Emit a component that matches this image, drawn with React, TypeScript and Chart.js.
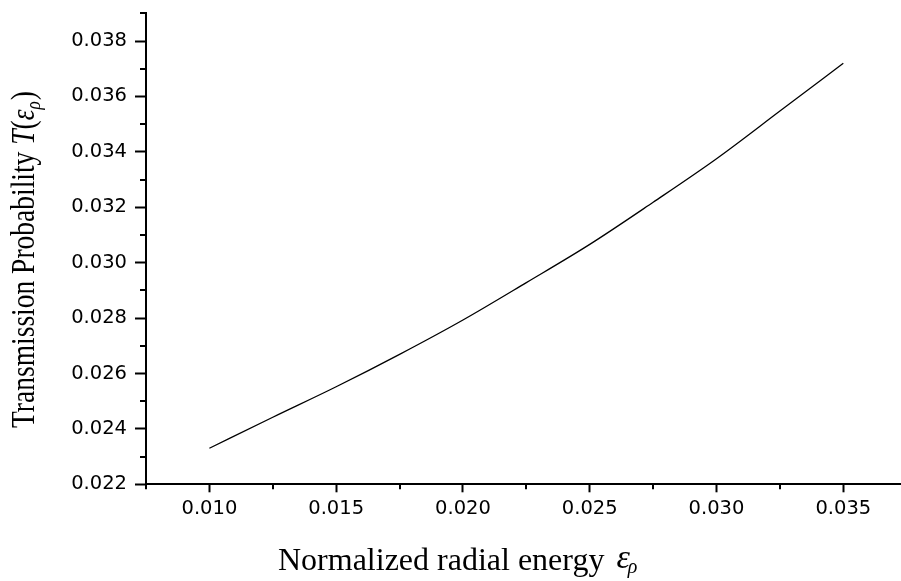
import { useEffect, useRef } from "react";
import { Chart, registerables } from "chart.js";

Chart.register(...registerables);

// ---- data ----
const ENERGY = [0.010, 0.0125, 0.015, 0.0175, 0.020, 0.0225, 0.025, 0.0275, 0.030, 0.0325, 0.035];
const TRANSMISSION = [0.0233, 0.02442, 0.02552, 0.02669, 0.02793, 0.02928, 0.03066, 0.03218, 0.03375, 0.03547, 0.0372];

const X_MIN = 0.0075;
const X_MAX = 0.0375;
const Y_MIN = 0.022;
const Y_MAX = 0.039;

const X_MAJOR_TICKS = [0.010, 0.015, 0.020, 0.025, 0.030, 0.035];
const X_MINOR_TICKS = [0.0075, 0.0125, 0.0175, 0.0225, 0.0275, 0.0325, 0.0375];
const Y_MAJOR_TICKS = [0.022, 0.024, 0.026, 0.028, 0.030, 0.032, 0.034, 0.036, 0.038];
const Y_MINOR_TICKS = [0.023, 0.025, 0.027, 0.029, 0.031, 0.033, 0.035, 0.037, 0.039];

const X_TITLE = "Normalized radial energy";
const Y_TITLE = "Transmission Probability ";
const SYM_T = "T";
const SYM_EPS = "ε";
const SYM_RHO = "ρ";

const W = 910;
const H = 581;

const TICK_FONT = { family: '"DejaVu Sans"', size: 19.5 };

const minorTicksPlugin = {
  id: "minorTicks",
  afterDraw(chart: any) {
    const { ctx, chartArea } = chart;
    const xs = chart.scales.x;
    const ys = chart.scales.y;
    ctx.save();
    ctx.strokeStyle = "#000";
    ctx.lineWidth = 2;
    ctx.beginPath();
    for (const v of X_MINOR_TICKS) {
      const px = Math.round(xs.getPixelForValue(v));
      ctx.moveTo(px, chartArea.bottom);
      ctx.lineTo(px, chartArea.bottom + 5);
    }
    for (const v of Y_MINOR_TICKS) {
      const py = Math.round(ys.getPixelForValue(v));
      ctx.moveTo(chartArea.left - 6, py);
      ctx.lineTo(chartArea.left, py);
    }
    ctx.stroke();
    ctx.restore();
  },
};

const titlesPlugin = {
  id: "axisTitles",
  afterDraw(chart: any) {
    const { ctx } = chart;
    ctx.save();
    ctx.fillStyle = "#000";
    ctx.textAlign = "left";
    ctx.textBaseline = "alphabetic";

    // x-axis title
    const xt = 278;
    const xb = 570;
    ctx.font = '32px "Liberation Serif"';
    ctx.fillText(X_TITLE, xt, xb);
    const tw = ctx.measureText(X_TITLE).width;
    const ex = xt + tw + 12;
    ctx.font = 'italic 34px "Liberation Serif"';
    ctx.fillText(SYM_EPS, ex, 568);
    const ew = ctx.measureText(SYM_EPS).width;
    ctx.font = 'italic 20px "Liberation Serif"';
    ctx.fillText(SYM_RHO, ex + ew - 2, 573);
    ctx.restore();

    // y-axis title (rotated)
    ctx.save();
    ctx.fillStyle = "#000";
    ctx.textAlign = "left";
    ctx.textBaseline = "alphabetic";
    ctx.translate(33.5, 428);
    ctx.rotate(-Math.PI / 2);
    ctx.scale(1, 1.2);
    let p = 0;
    ctx.font = '27.5px "Liberation Serif"';
    ctx.fillText(Y_TITLE, p, 0);
    p += ctx.measureText(Y_TITLE).width;
    ctx.font = 'italic 27.5px "Liberation Serif"';
    ctx.fillText(SYM_T, p, 0);
    p += ctx.measureText(SYM_T).width;
    ctx.font = '27.5px "Liberation Serif"';
    ctx.fillText("(", p, 0);
    p += ctx.measureText("(").width;
    ctx.font = 'italic 27.5px "Liberation Serif"';
    ctx.fillText(SYM_EPS, p, 0);
    p += ctx.measureText(SYM_EPS).width;
    ctx.font = 'italic 17px "Liberation Serif"';
    ctx.fillText(SYM_RHO, p, 5);
    p += ctx.measureText(SYM_RHO).width + 1;
    ctx.font = '27.5px "Liberation Serif"';
    ctx.fillText(")", p, 0);
    ctx.restore();
  },
};

export default function App() {
  const canvasRef = useRef<HTMLCanvasElement | null>(null);

  useEffect(() => {
    const canvas = canvasRef.current;
    if (!canvas) return;
    const chart = new Chart(canvas, {
      type: "line",
      data: {
        datasets: [
          {
            label: "T",
            data: ENERGY.map((x, i) => ({ x, y: TRANSMISSION[i] })),
            borderColor: "#000",
            borderWidth: 1.3,
            pointRadius: 0,
            fill: false,
            cubicInterpolationMode: "monotone",
          },
        ],
      },
      options: {
        animation: false,
        responsive: false,
        devicePixelRatio: 1,
        layout: { padding: { top: 13.3, right: W - 906.7, left: 0, bottom: 0 } },
        plugins: {
          legend: { display: false },
          tooltip: { enabled: false },
          title: { display: false },
        },
        scales: {
          x: {
            type: "linear",
            position: "bottom",
            min: X_MIN,
            max: X_MAX,
            afterBuildTicks: (s: any) => {
              s.ticks = X_MAJOR_TICKS.map((value) => ({ value }));
            },
            afterFit: (s: any) => {
              s.height = H - 484.3;
              s.paddingLeft = 0;
              s.paddingRight = 0;
            },
            ticks: {
              autoSkip: false,
              maxRotation: 0,
              padding: 5,
              color: "#000",
              font: TICK_FONT,
              callback: (v: any) => Number(v).toFixed(3),
            },
            grid: {
              drawOnChartArea: false,
              drawTicks: true,
              tickLength: 8,
              tickWidth: 2,
              tickColor: "#000",
            },
            border: { display: true, color: "#000", width: 2 },
          },
          y: {
            type: "linear",
            min: Y_MIN,
            max: Y_MAX,
            afterBuildTicks: (s: any) => {
              s.ticks = Y_MAJOR_TICKS.map((value) => ({ value }));
            },
            afterFit: (s: any) => {
              s.width = 146;
              s.paddingTop = 0;
              s.paddingBottom = 0;
            },
            ticks: {
              autoSkip: false,
              padding: 8,
              color: "#000",
              font: TICK_FONT,
              callback: (v: any) => Number(v).toFixed(3),
            },
            grid: {
              drawOnChartArea: false,
              drawTicks: true,
              tickLength: 11,
              tickWidth: 2,
              tickColor: "#000",
            },
            border: { display: true, color: "#000", width: 2 },
          },
        },
      },
      plugins: [minorTicksPlugin, titlesPlugin],
    } as any);
    return () => chart.destroy();
  }, []);

  return (
    <div
      style={{
        position: "fixed",
        left: 0,
        top: 0,
        width: 901,
        height: 581,
        overflow: "hidden",
        background: "#fff",
      }}
    >
      <canvas ref={canvasRef} width={W} height={H} style={{ width: W, height: H, display: "block" }} />
    </div>
  );
}
